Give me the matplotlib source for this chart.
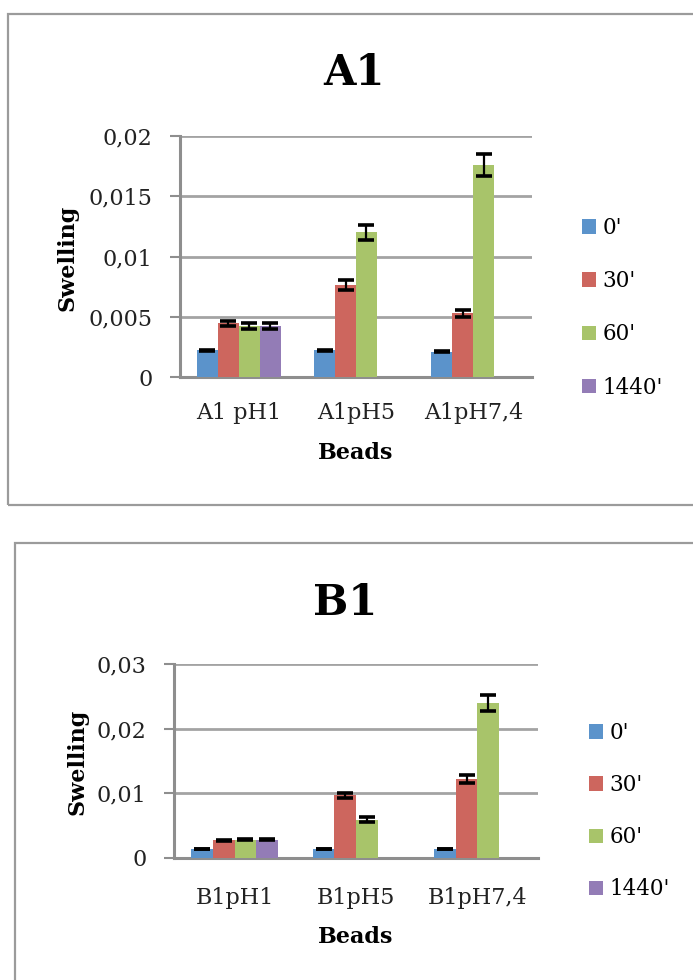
import numpy as np
import matplotlib
matplotlib.use("Agg")
import matplotlib.pyplot as plt
from matplotlib.patches import Rectangle
from matplotlib.ticker import FuncFormatter

plt.rcParams['font.family'] = ['DejaVu Serif']

# ---- data ----
series_names = ["0'", "30'", "60'", "1440'"]
colors = ['#5B93CB', '#CD665E', '#A8C46A', '#937CB6']

a1_categories = ['A1 pH1', 'A1pH5', 'A1pH7,4']
a1_t0 = [0.00222, 0.00222, 0.00208]
a1_t30 = [0.00444, 0.00764, 0.00528]
a1_t60 = [0.00422, 0.01200, 0.01758]
a1_t1440 = [0.00422, np.nan, np.nan]
a1_err0 = [0.00004, 0.00004, 0.00004]
a1_err30 = [0.00024, 0.00042, 0.00029]
a1_err60 = [0.00024, 0.00060, 0.00089]
a1_err1440 = [0.00024, np.nan, np.nan]

b1_categories = ['B1pH1', 'B1pH5', 'B1pH7,4']
b1_t0 = [0.00144, 0.00144, 0.00144]
b1_t30 = [0.00273, 0.00969, 0.01222]
b1_t60 = [0.00284, 0.00593, 0.02397]
b1_t1440 = [0.00284, np.nan, np.nan]
b1_err0 = [0.00002, 0.00002, 0.00002]
b1_err30 = [0.00003, 0.00041, 0.00062]
b1_err60 = [0.00003, 0.00040, 0.00126]
b1_err1440 = [0.00003, np.nan, np.nan]

W, H = 693, 980
fig = plt.figure(figsize=(W / 100, H / 100), dpi=100)

GRID = '#A3A3A3'
AXIS = '#8E8E8E'


def px_box(left, top, right, bottom):
    return [left / W, 1 - bottom / H, (right - left) / W, (bottom - top) / H]


def comma_fmt(v, pos):
    if abs(v) < 1e-12:
        return '0'
    s = ('%.3f' % v).rstrip('0').rstrip('.')
    return s.replace('.', ',')


def draw_panel(box, frame, title, title_xy, cats, values, errors, ymax, ystep,
               ylabel_xy, xlabel_y, xpad, legend_xy, legend_gap):
    # outer chart frame
    fx0, fy0, fx1, fy1 = frame
    fig.patches.append(Rectangle((fx0 / W, 1 - fy1 / H), (fx1 - fx0) / W,
                                 (fy1 - fy0) / H, transform=fig.transFigure,
                                 fill=False, edgecolor='#9B9B9B', linewidth=1.6))
    ax = fig.add_axes(px_box(*box))
    n = len(values)
    group = 0.714
    w = group / n
    x = np.arange(len(cats))
    handles = []
    for i, (vals, errs) in enumerate(zip(values, errors)):
        xi = x + (i - (n - 1) / 2) * w
        b = ax.bar(xi, vals, width=w, color=colors[i], zorder=3,
                   label=series_names[i], edgecolor='none')
        handles.append(b)
        ax.errorbar(xi, vals, yerr=errs, fmt='none', ecolor='black',
                    elinewidth=1.6, capsize=6, capthick=2.6, zorder=4)
    ax.set_xlim(-0.5, len(cats) - 0.5)
    ax.set_ylim(0, ymax)
    ax.set_yticks(np.arange(0, ymax + ystep / 2, ystep))
    ax.yaxis.set_major_formatter(FuncFormatter(comma_fmt))
    ax.set_xticks(x)
    ax.set_xticklabels(cats)
    ax.grid(axis='y', color=GRID, linewidth=2.0, zorder=0)
    ax.set_axisbelow(True)
    for s in ('top', 'right'):
        ax.spines[s].set_visible(False)
    for s in ('left', 'bottom'):
        ax.spines[s].set_color(AXIS)
        ax.spines[s].set_linewidth(2.2)
    ax.tick_params(axis='y', length=7.2, width=1.5, color=AXIS, pad=12.5,
                   labelsize=16, labelcolor='#222222')
    ax.tick_params(axis='x', length=0, pad=xpad, labelsize=16,
                   labelcolor='#222222')
    fig.text(title_xy[0] / W, 1 - title_xy[1] / H, title, fontsize=30,
             fontweight='bold', ha='center', va='center')
    fig.text(ylabel_xy[0] / W, 1 - ylabel_xy[1] / H, 'Swelling', fontsize=16,
             fontweight='bold', rotation=90, ha='center', va='center')
    fig.text((box[0] + box[2]) / 2 / W, 1 - xlabel_y / H, 'Beads', fontsize=16,
             fontweight='bold', ha='center', va='center')
    ax.legend(handles=handles, loc='upper left',
              bbox_to_anchor=(legend_xy[0] / W, 1 - legend_xy[1] / H),
              bbox_transform=fig.transFigure, frameon=False, fontsize=15.5,
              handlelength=0.65, handleheight=0.65, handletextpad=0.3,
              labelspacing=legend_gap, borderpad=0, borderaxespad=0)
    return ax


draw_panel((180, 136, 532, 377), (8, 14, 720, 505), 'A1', (354, 73),
           a1_categories, [a1_t0, a1_t30, a1_t60, a1_t1440],
           [a1_err0, a1_err30, a1_err60, a1_err1440], 0.02, 0.005,
           (68, 258), 453, 18, (582, 217), 1.45)

draw_panel((174, 664, 538, 858), (15, 543, 720, 1000), 'B1', (345, 603),
           b1_categories, [b1_t0, b1_t30, b1_t60, b1_t1440],
           [b1_err0, b1_err30, b1_err60, b1_err1440], 0.03, 0.01,
           (77, 762), 937, 21, (589, 722), 1.40)

fig.savefig('out.png', dpi=100)
